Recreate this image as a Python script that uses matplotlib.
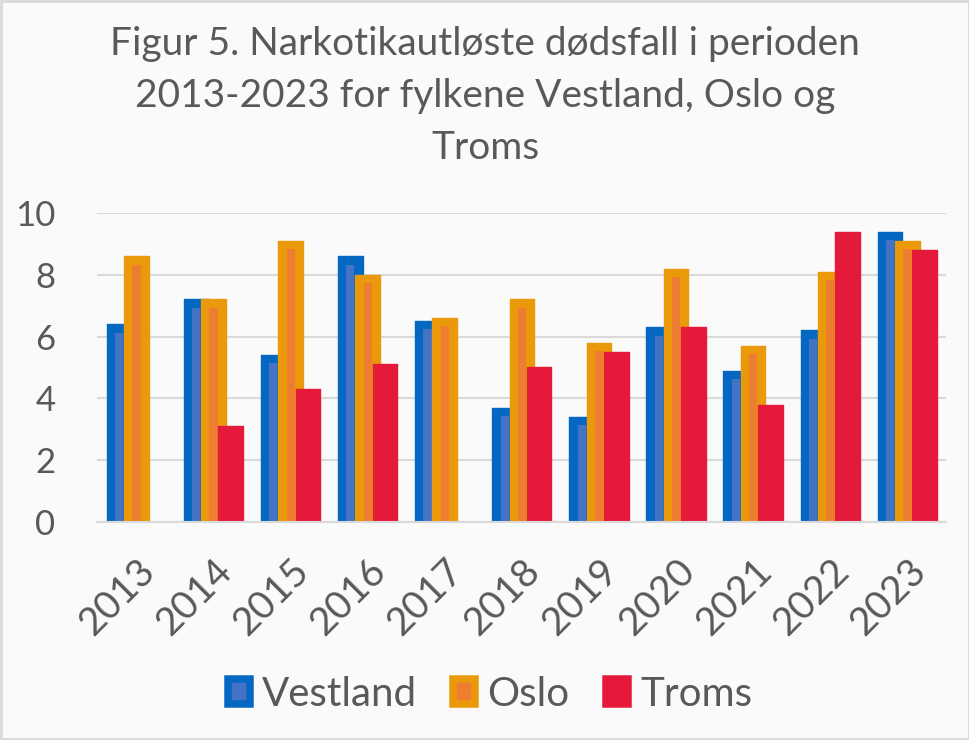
import numpy as np
import matplotlib
matplotlib.use("Agg")
import matplotlib.pyplot as plt
from matplotlib.patches import Patch

YEARS    = ["2013", "2014", "2015", "2016", "2017", "2018",
            "2019", "2020", "2021", "2022", "2023"]
VESTLAND = [6.4, 7.2, 5.4, 8.6, 6.5, 3.7, 3.4, 6.3, 4.9, 6.2, 9.4]
OSLO     = [8.6, 7.2, 9.1, 8.0, 6.6, 7.2, 5.8, 8.2, 5.7, 8.1, 9.1]
TROMS    = [0.0, 3.1, 4.3, 5.1, 0.0, 5.0, 5.5, 6.3, 3.8, 9.4, 8.8]
SERIES   = ["Vestland", "Oslo", "Troms"]

TEXT = "#595959"
GRID = "#D9D9D9"
BG   = "#FAFAFA"
# (edge, fill) per series
STYLES = [("#0468C2", "#4472C4"), ("#E9990A", "#ED7D31"), ("#E51A3A", "#E51A3A")]

plt.rcParams["font.family"] = ["Lato", "DejaVu Sans"]

fig = plt.figure(figsize=(9.7, 7.4), dpi=100)
fig.patch.set_facecolor(BG)
ax = fig.add_axes([0.1, 0.2946, 0.875, 0.4176])
ax.set_facecolor(BG)

x = np.arange(len(YEARS))
step = 0.224       # offset between series in a group
outer_w = 0.32     # full bar width (border included)
inner_w = 0.105    # lighter core of the bar
inset = 0.27       # border thickness on top, in data units

for i, (name, vals) in enumerate(zip(SERIES, [VESTLAND, OSLO, TROMS])):
    edge, fill = STYLES[i]
    vals = np.array(vals, dtype=float)
    vals[vals == 0] = np.nan
    pos = x + (i - 1) * step
    ax.bar(pos, vals, outer_w, color=edge, edgecolor=edge, linewidth=1,
           joinstyle="round", zorder=3 + 2 * i, label=name)
    if fill != edge:
        ax.bar(pos, vals - inset, inner_w, color=fill, linewidth=0,
               zorder=4 + 2 * i)

ax.set_xlim(-0.512, 10.5)
ax.set_ylim(0, 10)
ax.set_yticks(range(0, 11, 2))
ax.yaxis.grid(True, color=GRID, linewidth=1.5, zorder=0)
ax.set_axisbelow(True)
for s in ["top", "right", "left"]:
    ax.spines[s].set_visible(False)
ax.spines["bottom"].set_color(GRID)
ax.spines["bottom"].set_linewidth(1.5)
ax.spines["bottom"].set_zorder(10)
ax.tick_params(axis="y", length=0, pad=30, labelsize=25, labelcolor=TEXT)
ax.tick_params(axis="x", length=0, pad=22, labelsize=28, labelcolor=TEXT)
ax.set_xticks(x)
ax.set_xticklabels(YEARS, rotation=45, ha="right", rotation_mode="anchor")

fig.text(0.5, 0.965,
         "Figur 5. Narkotikautløste dødsfall i perioden\n"
         "2013-2023 for fylkene Vestland, Oslo og\nTroms",
         ha="center", va="top", fontsize=28, color=TEXT, linespacing=1.55)

handles = [Patch(facecolor=f, edgecolor=e, linewidth=5.4, joinstyle="round")
           for e, f in STYLES]
fig.legend(handles, SERIES, loc="center", bbox_to_anchor=(0.505, 0.062),
           ncol=3, frameon=False, fontsize=29, labelcolor=TEXT,
           handlelength=0.55, handleheight=0.55, handletextpad=0.3,
           columnspacing=0.9)

# thin border round the chart
fig.add_artist(plt.Rectangle((0.001, 0.001), 0.998, 0.998, transform=fig.transFigure,
                             fill=False, edgecolor=GRID, linewidth=2))

fig.savefig("out.png", dpi=100, facecolor=BG)
